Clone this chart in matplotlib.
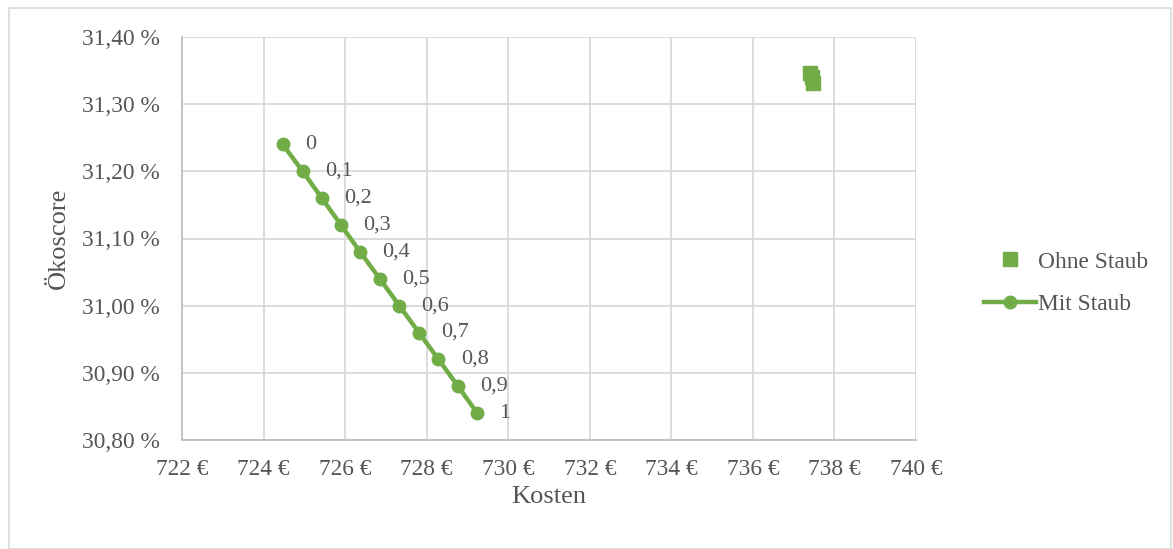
import matplotlib
matplotlib.use("Agg")
import matplotlib.pyplot as plt
from matplotlib.patches import Rectangle
from matplotlib.ticker import FuncFormatter, MultipleLocator

# Pareto front with dust (weight 0 .. 1)
weights = ["0", "0,1", "0,2", "0,3", "0,4", "0,5", "0,6", "0,7", "0,8", "0,9", "1"]
kosten_mit = [724.47, 724.96, 725.43, 725.90, 726.37, 726.85, 727.33, 727.81, 728.29, 728.77, 729.24]
oeko_mit = [31.24, 31.20, 31.16, 31.12, 31.08, 31.04, 31.00, 30.96, 30.92, 30.88, 30.84]

# Solutions without dust
kosten_ohne = [737.40, 737.44, 737.47]
oeko_ohne = [31.347, 31.340, 31.331]

green = "#70AD47"
grid_c = "#D9D9D9"
text_c = "#555555"
fs_tick = 16.8
fs_title = 19
fs_lbl = 16

plt.rcParams["font.family"] = ["Liberation Serif", "DejaVu Serif"]

W, H = 1173, 549
fig = plt.figure(figsize=(W / 100, H / 100), dpi=100)
ax = fig.add_axes([182 / W, 1 - 440 / H, (916 - 182) / W, (440 - 37) / H])

ax.plot(kosten_ohne, oeko_ohne, linestyle="none", marker="s", markersize=10.5,
        color=green, label="Ohne Staub", zorder=3)
ax.plot(kosten_mit, oeko_mit, color=green, linewidth=3.2, marker="o",
        markersize=9, label="Mit Staub", zorder=3)

for x, y, t in zip(kosten_mit, oeko_mit, weights):
    ax.annotate(t, (x, y), xytext=(16, 0), textcoords="offset points",
                ha="left", va="center", fontsize=fs_lbl, color=text_c)

ax.set_xlim(722, 740)
ax.set_ylim(30.80, 31.40)
ax.xaxis.set_major_locator(MultipleLocator(2))
ax.yaxis.set_major_locator(MultipleLocator(0.1))
ax.xaxis.set_major_formatter(FuncFormatter(lambda v, p: f"{v:.0f} €"))
ax.yaxis.set_major_formatter(FuncFormatter(lambda v, p: f"{v:.2f} %".replace(".", ",")))
ax.tick_params(axis="both", length=0, labelsize=fs_tick, colors=text_c)
ax.tick_params(axis="y", pad=16)
ax.tick_params(axis="x", pad=14)
ax.grid(True, color=grid_c, linewidth=1.3)
ax.set_axisbelow(True)
for side in ["top", "right"]:
    ax.spines[side].set_visible(False)
for side in ["left", "bottom"]:
    ax.spines[side].set_color("#BFBFBF")
    ax.spines[side].set_linewidth(1.3)

ax.set_xlabel("Kosten", fontsize=fs_title, color=text_c)
ax.set_ylabel("Ökoscore", fontsize=fs_title, color=text_c)
ax.xaxis.set_label_coords(0.5, (440 - 486) / 403)
ax.yaxis.set_label_coords((70 - 182) / 734, 0.5)

fig.legend(loc="center left", bbox_to_anchor=(972 / W, 1 - 283 / H),
           frameon=False, fontsize=fs_tick, handlelength=2.25, handletextpad=0.1,
           borderpad=0, labelspacing=0.9, labelcolor=text_c)

fig.patches.append(Rectangle((9 / W, 0), (1171 - 9) / W, 1 - 8 / H,
                             transform=fig.transFigure, fill=False,
                             edgecolor="#D9D9D9", linewidth=1.2))

fig.savefig("out.png", dpi=100)
